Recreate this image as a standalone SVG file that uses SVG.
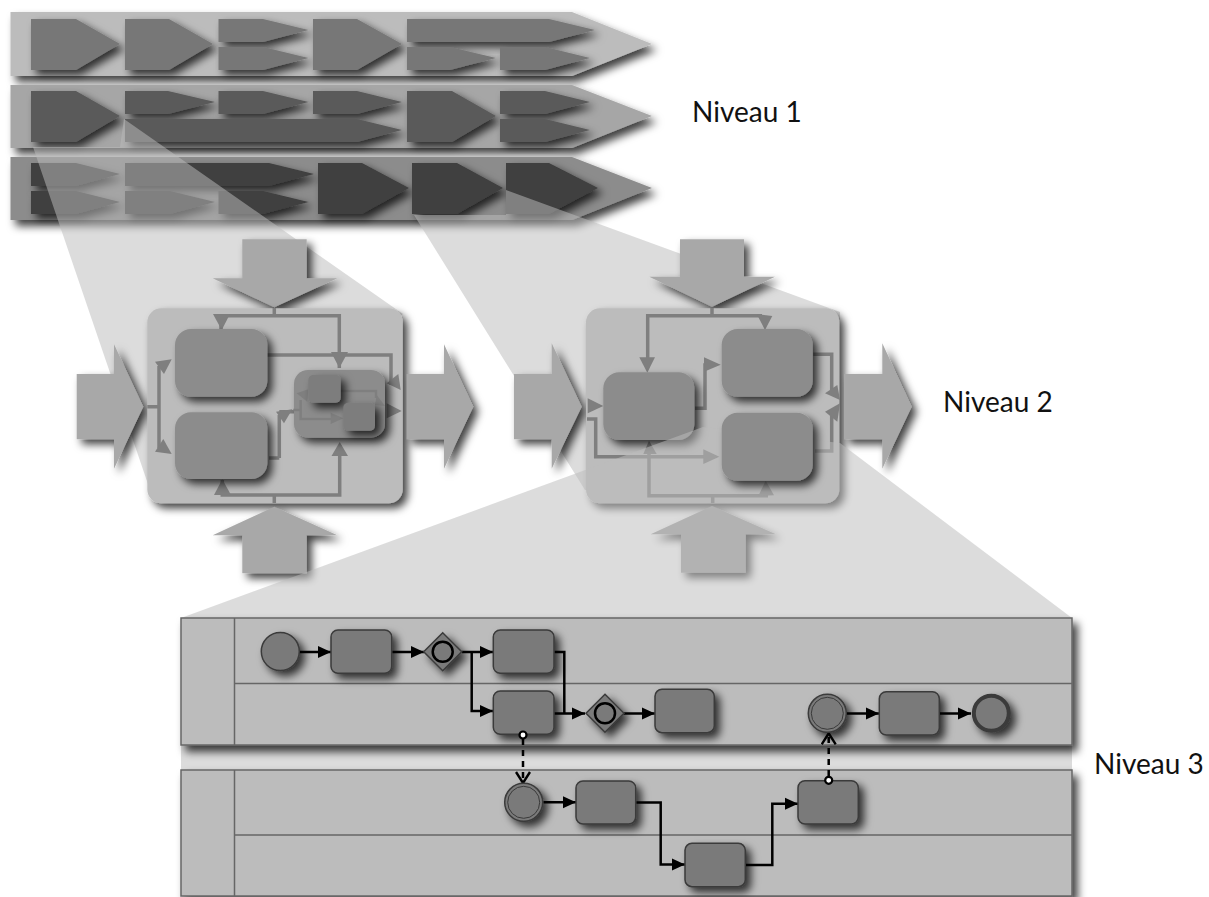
<svg xmlns="http://www.w3.org/2000/svg" width="1209" height="897" viewBox="0 0 1209 897">
<style>
.t{font-family:"Lato","Open Sans",sans-serif;font-size:28px;fill:#111}
.b1{fill:#bcbcbc}.b2{fill:#a6a6a6}.b3{fill:#8c8c8c}
.a1{fill:#777}.a2{fill:#5a5a5a}.a3{fill:#3f3f3f}
.wedge{fill:#bcbcbc;fill-opacity:.52}
.bigarrow{fill:#a8a8a8}
.box{fill:#bcbcbc}
.task{fill:#8c8c8c}
.inner{fill:#7d7d7d}
.pc{fill:none;stroke:#7f7f7f;stroke-width:3.500}
.pc2{fill:none;stroke:#7f7f7f;stroke-width:2.500}
.ph{fill:#7f7f7f}
.lane{fill:#bcbcbc;stroke:#666;stroke-width:1.5}
.ld{fill:none;stroke:#666;stroke-width:1.5}
.bt{fill:#7a7a7a;stroke:#3a3a3a;stroke-width:1.5}
.flow{fill:none;stroke:#000;stroke-width:2.500;marker-end:url(#ah)}
.join{fill:none;stroke:#000;stroke-width:2.500}
.msg{fill:none;stroke:#000;stroke-width:2.500;stroke-dasharray:6 5;marker-end:url(#oh)}
.dot{fill:#fff;stroke:#000;stroke-width:2.200}
.ring{fill:none;stroke:#000;stroke-width:2.500}
.thin{fill:none;stroke:#3a3a3a;stroke-width:1}
.s{filter:url(#sh)}
.s2{filter:url(#sh2)}
</style>
<defs>
<filter id="sh" x="-40%" y="-40%" width="190%" height="190%"><feDropShadow dx="5" dy="5" stdDeviation="4" flood-color="#000" flood-opacity=".75"/></filter>
<filter id="sh2" x="-10%" y="-20%" width="125%" height="160%"><feDropShadow dx="5" dy="6" stdDeviation="4" flood-color="#000" flood-opacity=".75"/></filter>
<marker id="ah" markerUnits="userSpaceOnUse" markerWidth="14" markerHeight="14" refX="13" refY="7" orient="auto"><path d="M0 1L13 7L0 13Z" fill="#000"/></marker>
<marker id="oh" markerUnits="userSpaceOnUse" markerWidth="14" markerHeight="16" refX="12" refY="8" orient="auto"><path d="M1 1L12 8L1 15" fill="none" stroke="#000" stroke-width="2.400"/></marker>
</defs>

<g id="band1">
<polygon class="b1 s2" points="10.5,12 572,12 652,44 572,76 10.5,76"/>
<g class="a1">
<polygon class="s" points="31,19 76,19 120,44 76,70 31,70"/>
<polygon class="s" points="125,19 169,19 213,44 169,70 125,70"/>
<polygon class="s" points="218.500,19 263,19 308.500,30 263,42 218.500,42"/>
<polygon class="s" points="218.500,47 263,47 308.500,58 263,70 218.500,70"/>
<polygon class="s" points="313,19 357,19 402,44 357,70 313,70"/>
<polygon class="s" points="407,19 549,19 595,30 549,42 407,42"/>
<polygon class="s" points="407,47 450,47 496,58 450,70 407,70"/>
<polygon class="s" points="500,47 545,47 590,58 545,70 500,70"/>
</g>
</g>
<g id="band2">
<polygon class="b2 s2" points="10.500,85 572,85 652,116 572,148 10.500,148"/>
<g class="a2">
<polygon class="s" points="31,91 76,91 120,116 76,142 31,142"/>
<polygon class="s" points="125,91 168,91 215,102 168,114 125,114"/>
<polygon class="s" points="218.500,91 263,91 308.500,102 263,114 218.500,114"/>
<polygon class="s" points="313,91 357,91 402,102 357,114 313,114"/>
<polygon class="s" points="125,119 357,119 402,130 357,142 125,142"/>
<polygon class="s" points="407,91 452,91 496,116 452,142 407,142"/>
<polygon class="s" points="500,91 545,91 590,102 545,114 500,114"/>
<polygon class="s" points="500,119 545,119 590,130 545,142 500,142"/>
</g>
</g>
<g id="band3">
<polygon class="b3 s2" points="10.500,157 572,157 652,188 572,220 10.500,220"/>
<g class="a3">
<polygon class="s" points="31,163 76,163 120,174 76,186 31,186"/>
<polygon class="s" points="31,191 76,191 120,202 76,214 31,214"/>
<polygon class="s" points="125,163 269,163 314,174 269,186 125,186"/>
<polygon class="s" points="125,191 170,191 215,202 170,214 125,214"/>
<polygon class="s" points="218.500,191 263,191 308.500,202 263,214 218.500,214"/>
<polygon class="s" points="318,163 362,163 409,188 362,214 318,214"/>
<polygon class="s" points="412,163 457,163 503,188 457,214 412,214"/>
<polygon class="s" points="506,163 549,163 598,188 549,214 506,214"/>
</g>
</g>

<polygon id="wedge1" class="wedge" points="33,147 120,147 124,119 403,314 150,490"/>
<polygon id="wedge2" class="wedge" points="414,215 506,215 506,190 840,312 840,490 585,490"/>

<g id="process1">
<polygon class="bigarrow s" points="242.300,239.300 306.700,239.300 306.700,278.300 337.300,278.300 274.300,307.300 212.700,278.300 242.300,278.300"/>
<polygon class="bigarrow s" points="76.700,374 114,374 114,344.300 143.300,406.700 114,468.700 114,439.300 76.700,439.300"/>
<rect class="box s" x="147.300" y="308.300" width="255.400" height="195" rx="14"/>
<polygon class="bigarrow s" points="406.700,374 444,374 444,344.300 473.300,406.700 444,468.700 444,439.300 406.700,439.300"/>
<polygon class="bigarrow s" points="274.300,506.700 337.300,535.300 306.700,535.300 306.700,573.300 242.300,573.300 242.300,535.300 212.700,535.300"/>
<g id="p1-connectors">
<path class="pc" d="M274.300 308V315.700M221 330V315.700H339.300V368M267.300 355H391V385M147.300 406.700H159M159 366V448M279.300 458H269M279.300 458V415M279.300 411.700H294M274.300 503V495M222.300 480V495H339.700V445"/>
<polygon class="ph" points="213,314 230,314 221.700,330"/>
<polygon class="ph" points="331,352 348,352 339.300,368"/>
<polygon class="ph" points="386.700,383.300 398.300,374 400.700,390"/>
<polygon class="ph" points="155,361.700 164,374 171.700,359.300"/>
<polygon class="ph" points="155,451.700 163.300,439 171.700,454"/>
<polygon class="ph" points="276,411.700 284,423.300 292.300,409.300"/>
<polygon class="ph" points="214,495 231,495 222.300,479.300"/>
<polygon class="ph" points="331.500,456 348,456 339.700,442"/>
<polygon class="ph" points="386.700,403.300 386.700,418.300 401.700,411"/>
</g>
<rect id="p1-a" class="task s" x="175" y="329" width="92.300" height="67.700" rx="16"/>
<rect id="p1-b" class="task s" x="175" y="412.300" width="92.300" height="66.700" rx="16"/>
<g id="p1-sub">
<rect class="task s" x="294" y="370" width="91" height="67.700" rx="14"/>
<path class="pc2" d="M293.300 410H300.700M300.700 400V419H332M340 391H376V398"/>
<polygon class="ph" points="296.700,393.300 308.300,389.300 307.300,401.700"/>
<polygon class="ph" points="330.700,412.700 330.700,424 343.300,418.300"/>
<polygon class="ph" points="376.700,395 385,406 375,405"/>
<rect class="inner s" x="308.300" y="375" width="32.400" height="27.700" rx="5"/>
<rect class="inner s" x="343.300" y="402.700" width="31.700" height="28" rx="5"/>
</g>
</g>

<g id="process2">
<polygon class="bigarrow s" points="680,239.300 744,239.300 744,276.700 775,276.700 712,306.700 649.300,276.700 680,276.700"/>
<polygon class="bigarrow s" points="514,374 551.700,374 551.700,343.300 581.700,406.700 551.700,468.700 551.700,439.300 514,439.300"/>
<rect class="box s" x="586" y="308.300" width="253.300" height="195" rx="14"/>
<polygon class="bigarrow s" points="844,374 882.300,374 882.300,343.300 911.700,406.700 882.300,468.700 882.300,439.300 844,439.300"/>
<polygon class="bigarrow s" points="712,506 776,534.300 745.700,534.300 745.700,572.700 681,572.700 681,534.300 650.700,534.300"/>
<g id="p2-connectors">
<path class="pc" d="M712 308V315.700M647.700 360V315.700H762M587 419H595.700V456.700H706M695 408.300H705V365H706M813.300 354.300H831.700V390M815 451H831.700V415M712.700 503V495.700M649 452V495.700H768"/>
<polygon class="ph" points="639.300,357.300 655,357.300 647.300,372.700"/>
<polygon class="ph" points="756.700,314 772.300,316 765,330"/>
<polygon class="ph" points="587.700,398.300 587.700,413.300 603.300,406"/>
<polygon class="ph" points="704,357.300 704,371.700 720.700,364.700"/>
<polygon class="ph" points="703.300,449.300 703.300,464 719.300,456.700"/>
<polygon class="ph" points="643.300,454 656.700,454 649,440.700"/>
<polygon class="ph" points="758.300,496 774,495.300 765.700,480.700"/>
<polygon class="ph" points="825,393.300 837.300,385 840,400"/>
<polygon class="ph" points="825,411.700 837.300,421.700 840,403.300"/>
</g>
<rect id="p2-a" class="task s" x="603.300" y="372.300" width="91" height="67.700" rx="16"/>
</g>

<polygon id="wedge3" class="wedge" points="703,427 840,443 1072,618 1072,770 181,770 181,618"/>

<g id="process2-upper">
<rect id="p2-b" class="task s" x="721.700" y="329" width="91" height="67.700" rx="16"/>
<rect id="p2-c" class="task s" x="721.700" y="412.700" width="91" height="68" rx="16"/>
</g>

<g id="lane1">
<rect class="lane s2" x="181" y="618" width="891" height="127"/>
<path class="ld" d="M234.500 618V745M234.500 683.500H1072"/>
</g>
<g id="lane2">
<rect class="lane s2" x="181" y="770" width="891" height="126"/>
<path class="ld" d="M234.500 770V896M234.500 835H1072"/>
</g>

<g id="connectors">
<path class="flow" d="M299.500 652H331"/>
<path class="flow" d="M391.700 652H424"/>
<path class="flow" d="M461.700 652H493"/>
<path class="flow" d="M471.700 652V711H493"/>
<path class="join" d="M554 652H564.300V713.500"/>
<path class="flow" d="M554 713.500H585"/>
<path class="flow" d="M623.300 713.500H655"/>
<path class="flow" d="M846.700 713.500H879"/>
<path class="flow" d="M940 713.500H971"/>
<path class="flow" d="M543.300 802.300H576"/>
<path class="flow" d="M635.700 802.500H660.700V864.500H685"/>
<path class="flow" d="M745.300 865H772.300V803.700H798"/>
<path class="msg" d="M523 739V783"/>
<path class="msg" d="M828.700 776V733.300"/>
</g>

<g id="start"><circle class="bt s" cx="280.300" cy="651.500" r="19"/></g>
<g id="task1"><rect class="bt s" x="331" y="630" width="60.700" height="43.300" rx="7"/></g>
<g id="gw1"><polygon class="bt s" points="442.700,632.700 461.700,651.700 442.700,670.700 423.700,651.700"/><circle class="ring" cx="442.700" cy="651.700" r="10"/></g>
<g id="task2"><rect class="bt s" x="493.300" y="630" width="60.700" height="43.300" rx="7"/></g>
<g id="task3"><rect class="bt s" x="493.300" y="691" width="60.700" height="43.300" rx="7"/></g>
<g id="gw2"><polygon class="bt s" points="605,694.300 624,713.300 605,732.300 586,713.300"/><circle class="ring" cx="605" cy="713.300" r="10"/></g>
<g id="task4"><rect class="bt s" x="655" y="689.300" width="59.300" height="43.400" rx="7"/></g>
<g id="ev1"><circle class="bt s" cx="827.300" cy="713.300" r="19"/><circle class="thin" cx="827.300" cy="713.300" r="16"/></g>
<g id="task5"><rect class="bt s" x="879.300" y="691.700" width="60" height="43.300" rx="7"/></g>
<g id="end"><circle class="bt s" style="stroke-width:4" cx="991.300" cy="713.300" r="17.500"/></g>
<g id="ev2"><circle class="bt s" cx="523.700" cy="802.300" r="19"/><circle class="thin" cx="523.700" cy="802.300" r="16"/></g>
<g id="task6"><rect class="bt s" x="576" y="781" width="59.700" height="43" rx="7"/></g>
<g id="task7"><rect class="bt s" x="685" y="843.300" width="60.300" height="43.400" rx="7"/></g>
<g id="task8"><rect class="bt s" x="798" y="780.700" width="60.300" height="43.300" rx="7"/></g>
<circle class="dot" cx="523" cy="735" r="3.500"/>
<circle class="dot" cx="828.700" cy="780.300" r="3.500"/>

<text class="t" x="692" y="122">Niveau 1</text>
<text class="t" x="943" y="412">Niveau 2</text>
<text class="t" x="1094" y="774">Niveau 3</text>
</svg>
